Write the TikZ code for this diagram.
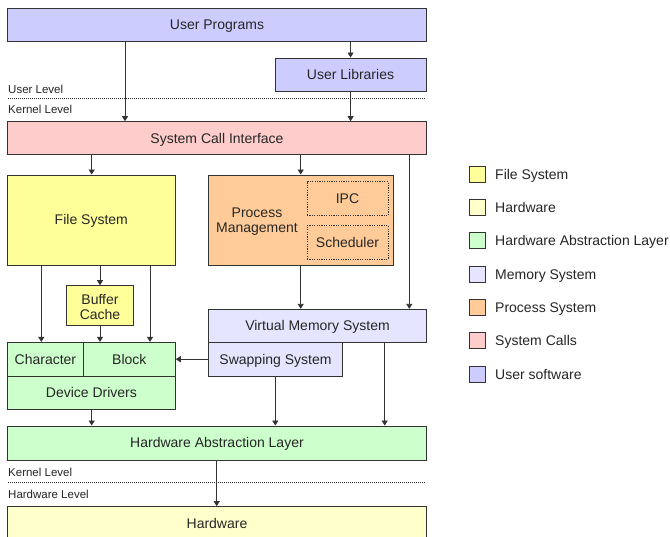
\documentclass[tikz,border=0pt]{standalone}
\usepackage{fontspec}
\setmainfont{Liberation Sans}
\usetikzlibrary{arrows.meta}
\definecolor{cuser}{HTML}{CCCCFF}
\definecolor{csys}{HTML}{FFCCCC}
\definecolor{cfs}{HTML}{FFFF99}
\definecolor{chw}{HTML}{FFFFCC}
\definecolor{chal}{HTML}{CCFFCC}
\definecolor{cmem}{HTML}{E5E5FF}
\definecolor{cproc}{HTML}{FFCC99}
\definecolor{cline}{HTML}{333333}
\tikzset{
  txt/.style={inner sep=0pt, align=center, text=black!85, font=\fontsize{14}{15.5}\selectfont},
  box/.style={txt, draw=cline, line width=0.9pt, text height=10pt, text depth=0pt},
  inbox/.style={box, dash pattern=on 1.2pt off 1.2pt},
  arr/.style={draw=black!80, line width=0.9pt, -{Triangle[length=5pt,width=6pt]}},
  lvl/.style={anchor=west, inner sep=0pt, text=black!85, font=\fontsize{11.5}{13}\selectfont},
  dotline/.style={draw=black!80, line width=0.9pt, dash pattern=on 1pt off 1pt},
  legbox/.style={draw=cline, line width=0.9pt, minimum width=16.5pt, minimum height=16.3pt, inner sep=0pt},
  legtxt/.style={anchor=west, inner sep=0pt, text=black!85, text height=10pt, text depth=0pt, font=\fontsize{14}{16}\selectfont}
}
\begin{document}
\begin{tikzpicture}[x=1pt,y=-1pt]
\clip (0,0) rectangle (670,537);
\fill[white] (0,0) rectangle (670,537);

% boxes
\node[box, fill=cuser, minimum width=418.5pt, minimum height=33pt] (up) at (217,24.5) {User Programs};
\node[box, fill=cuser, minimum width=151pt, minimum height=33pt] (ul) at (350.5,74.5) {User Libraries};
\node[box, fill=csys, minimum width=418.5pt, minimum height=33.3pt] (sci) at (217,138.3) {System Call Interface};
\node[box, fill=cfs, minimum width=167.5pt, minimum height=90pt] (fs) at (91.3,220) {File System};
\node[box, fill=cproc, minimum width=184.3pt, minimum height=90pt] (pm) at (300.8,220) {};
\node[txt] (pmt) at (257,221.5) {Process\\Management};
\node[inbox, minimum width=81pt, minimum height=34pt] (ipc) at (347.5,198.7) {IPC};
\node[inbox, minimum width=81pt, minimum height=33.6pt] (sch) at (347.5,242.5) {Scheduler};
\node[box, fill=cfs, minimum width=66.6pt, minimum height=40pt] (bc) at (100,305.7) {};
\node[txt] (bct) at (100,307.2) {Buffer\\Cache};
\node[box, fill=chal, minimum width=75.8pt, minimum height=33.7pt] (ch) at (45.4,359.2) {Character};
\node[box, fill=chal, minimum width=92pt, minimum height=33.7pt] (bl) at (129.3,359.2) {Block};
\node[box, fill=chal, minimum width=167.8pt, minimum height=33.3pt] (dd) at (91.4,392.7) {Device Drivers};
\node[box, fill=cmem, minimum width=217.6pt, minimum height=33pt] (vms) at (317.5,325.8) {Virtual Memory System};
\node[box, fill=cmem, minimum width=133.6pt, minimum height=33.7pt] (sw) at (275.5,359.2) {Swapping System};
\node[box, fill=chal, minimum width=418.5pt, minimum height=34pt] (hal) at (217,443) {Hardware Abstraction Layer};
\node[box, fill=chw, minimum width=418.5pt, minimum height=33.3pt] (hw) at (217,523.3) {Hardware};

% level separators
\node[lvl] (ulv) at (8,89) {User Level};
\node[lvl] (klv) at (8,109) {Kernel Level};
\coordinate (d1a) at (8,98);
\coordinate (d1b) at (426,98);
\draw[dotline] (d1a) -- (d1b);
\node[lvl] (klv2) at (8,472) {Kernel Level};
\node[lvl] (hlv) at (8,494) {Hardware Level};
\coordinate (d2a) at (8,482.7);
\coordinate (d2b) at (426,482.7);
\draw[dotline] (d2a) -- (d2b);

% x positions
\coordinate (xa) at (125,0);
\coordinate (xb) at (350.6,0);
\coordinate (xc) at (91.7,0);
\coordinate (xd) at (300.7,0);
\coordinate (xe) at (409.3,0);
\coordinate (xf) at (41.3,0);
\coordinate (xg) at (100,0);
\coordinate (xh) at (150,0);
\coordinate (xi) at (275.3,0);
\coordinate (xj) at (384.7,0);
\coordinate (xk) at (216.7,0);

% connectors
\draw[arr] (up.south -| xa) -- (sci.north -| xa);
\draw[arr] (up.south -| xb) -- (ul.north -| xb);
\draw[arr] (ul.south -| xb) -- (sci.north -| xb);
\draw[arr] (sci.south -| xc) -- (fs.north -| xc);
\draw[arr] (sci.south -| xd) -- (pm.north -| xd);
\draw[arr] (sci.south -| xe) -- (vms.north -| xe);
\draw[arr] (fs.south -| xf) -- (ch.north -| xf);
\draw[arr] (fs.south -| xg) -- (bc.north -| xg);
\draw[arr] (fs.south -| xh) -- (bl.north -| xh);
\draw[arr] (bc.south -| xg) -- (bl.north -| xg);
\draw[arr] (pm.south -| xd) -- (vms.north -| xd);
\draw[arr] (sw.west) -- (bl.east);
\draw[arr] (dd.south -| xc) -- (hal.north -| xc);
\draw[arr] (sw.south -| xi) -- (hal.north -| xi);
\draw[arr] (vms.south -| xj) -- (hal.north -| xj);
\draw[arr] (hal.south -| xk) -- (hw.north -| xk);

% legend
\node[legbox, fill=cfs] (l1) at (477.6,174.2) {};
\node[legtxt] (t1) at (495,174.2) {File System};
\node[legbox, fill=chw] (l2) at (477.6,207.5) {};
\node[legtxt] (t2) at (495,207.5) {Hardware};
\node[legbox, fill=chal] (l3) at (477.6,240.8) {};
\node[legtxt] (t3) at (495,240.8) {Hardware Abstraction Layer};
\node[legbox, fill=cmem] (l4) at (477.6,274.2) {};
\node[legtxt] (t4) at (495,274.2) {Memory System};
\node[legbox, fill=cproc] (l5) at (477.6,307.5) {};
\node[legtxt] (t5) at (495,307.5) {Process System};
\node[legbox, fill=csys] (l6) at (477.6,340.8) {};
\node[legtxt] (t6) at (495,340.8) {System Calls};
\node[legbox, fill=cuser] (l7) at (477.6,374.2) {};
\node[legtxt] (t7) at (495,374.2) {User software};
\end{tikzpicture}
\end{document}
